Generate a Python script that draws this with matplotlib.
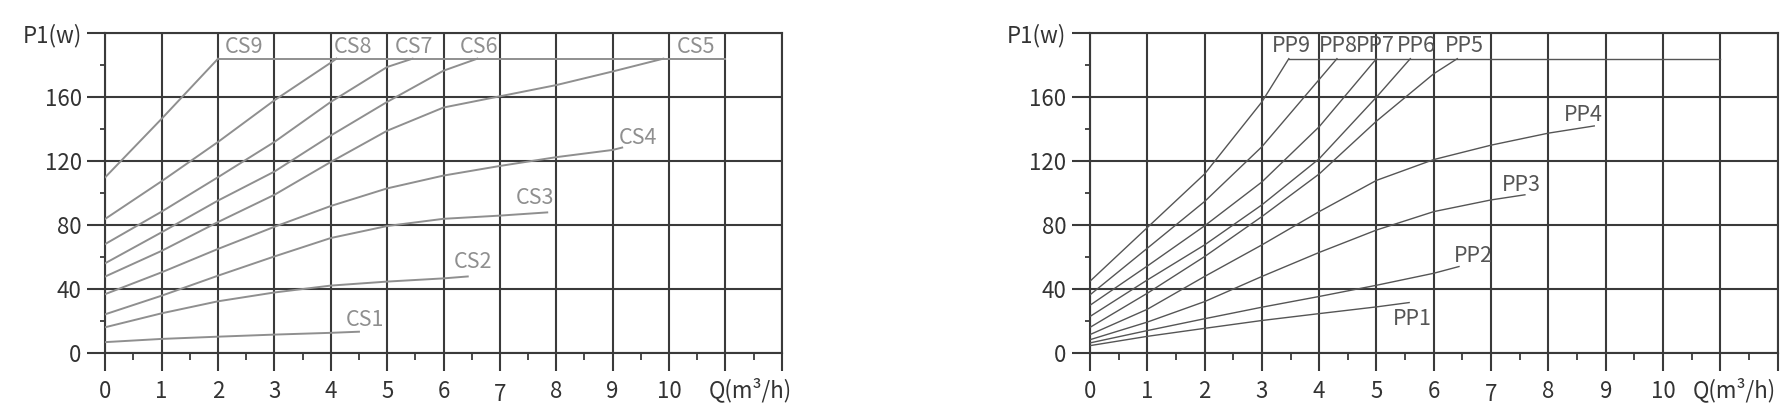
import numpy as np
import matplotlib.pyplot as plt
from matplotlib.ticker import MultipleLocator, FixedLocator

plt.rcParams['font.family'] = ['Noto Sans CJK SC', 'DejaVu Sans']

# 左图 CS 系列 (Q, P1)
cs_q = {
    'CS1': [0, 1, 2, 3, 4, 4.5],
    'CS2': [0, 1, 2, 3, 4, 5, 6, 6.43],
    'CS3': [0, 1, 2, 3, 4, 5, 6, 7, 7.84],
    'CS4': [0, 1, 2, 3, 4, 5, 6, 7, 8, 9, 9.17],
    'CS5': [0, 1, 2, 3, 4, 5, 6, 7, 8, 9, 9.9],
    'CS6': [0, 1, 2, 3, 4, 5, 6, 6.6],
    'CS7': [0, 1, 2, 3, 4, 5, 5.45],
    'CS8': [0, 1, 2, 3, 4, 4.1],
    'CS9': [0, 1, 2],
}
cs_p = {
    'CS1': [7, 9, 10.4, 11.7, 12.8, 13.5],
    'CS2': [16.3, 25, 32.5, 38, 42.3, 44.8, 46.8, 48],
    'CS3': [24.4, 36, 48.5, 60.5, 72, 79.5, 84, 86, 88],
    'CS4': [37, 50.6, 65.2, 79, 92, 103, 111, 117, 122.5, 127, 128.5],
    'CS5': [48, 64, 82, 99, 119.5, 139, 153.5, 160.5, 167.5, 176, 184],
    'CS6': [56.3, 75.6, 95.4, 113.5, 136, 157, 176.5, 184],
    'CS7': [68.3, 88.5, 110, 132, 157, 178.8, 184],
    'CS8': [84, 107.5, 132, 158, 181.5, 184],
    'CS9': [110, 146.5, 184],
}
cs_limit_q = [2, 11]

# 右图 PP 系列 (Q, P1)
pp_q = {
    'PP1': [0, 1, 2, 3, 4, 5, 5.57],
    'PP2': [0, 1, 2, 3, 4, 5, 6, 6.44],
    'PP3': [0, 1, 2, 3, 4, 5, 6, 7, 7.59],
    'PP4': [0, 1, 2, 3, 4, 5, 6, 7, 8, 8.8],
    'PP5': [0, 1, 2, 3, 4, 5, 6, 6.41],
    'PP6': [0, 1, 2, 3, 4, 5, 5.59],
    'PP7': [0, 1, 2, 3, 4, 5],
    'PP8': [0, 1, 2, 3, 4, 4.31],
    'PP9': [0, 1, 2, 3, 3.47],
}
pp_p = {
    'PP1': [4.8, 10.6, 15.6, 20.5, 24.8, 29, 31.7],
    'PP2': [6.5, 14.2, 21.6, 28.8, 35.5, 42.5, 50, 54.2],
    'PP3': [8.5, 19.5, 32.3, 48, 63, 77, 88.5, 95.8, 99],
    'PP4': [11.7, 27.5, 48, 67.7, 88.5, 108, 121, 130, 137.5, 142],
    'PP5': [16.2, 37.5, 60.4, 85.4, 112, 145, 174.6, 184],
    'PP6': [23, 45.8, 67.7, 92.7, 121.5, 160, 184],
    'PP7': [30, 54.5, 79.6, 107, 141.5, 184],
    'PP8': [36.5, 65.6, 94.8, 129, 171, 184],
    'PP9': [45, 78.5, 112, 157, 184],
}
pp_limit_q = [3.47, 11]

p_max = 184

x_labels = ['0', '1', '2', '3', '4', '5', '6', '', '8', '9', '10', '', '']
y_labels = ['0', '40', '80', '120', '160', 'P1(w)']

# 标签位置
cs_label_pos = {'CS9': (2.12, 191), 'CS8': (4.06, 191), 'CS7': (5.13, 191),
                'CS6': (6.28, 191), 'CS5': (10.13, 191), 'CS4': (9.11, 134.5),
                'CS3': (7.28, 97), 'CS2': (6.19, 57), 'CS1': (4.27, 21)}
pp_label_pos = {'PP9': (3.18, 192), 'PP8': (4.0, 192), 'PP7': (4.64, 192),
                'PP6': (5.35, 192), 'PP5': (6.19, 192), 'PP4': (8.27, 149),
                'PP3': (7.19, 105), 'PP2': (6.35, 61), 'PP1': (5.29, 21.5)}

grid_c = '#3a3a3a'
tick_fs = 16
label_fs = 15.5


def setup_axes(ax, q_center):
    ax.set_xlim(0, 12)
    ax.set_ylim(0, 200)
    ax.xaxis.set_major_locator(FixedLocator(range(13)))
    ax.yaxis.set_major_locator(FixedLocator([0, 40, 80, 120, 160, 200]))
    ax.xaxis.set_minor_locator(MultipleLocator(0.5))
    ax.yaxis.set_minor_locator(MultipleLocator(20))
    ax.set_xticklabels(x_labels)
    ax.set_yticklabels(y_labels)
    ax.grid(True, which='major', color=grid_c, lw=1.5)
    for s in ax.spines.values():
        s.set_color(grid_c)
        s.set_linewidth(1.5)
    ax.tick_params(which='major', length=13, width=1.5, color=grid_c,
                   labelsize=tick_fs, labelcolor='#333333')
    ax.tick_params(axis='x', which='major', pad=6)
    ax.tick_params(axis='y', which='major', pad=4)
    ax.tick_params(axis='x', which='minor', length=5, width=1.3, color=grid_c)
    ax.tick_params(axis='y', which='minor', length=3.6, width=1.3, color=grid_c)
    ax.set_axisbelow(False)
    # 7 的刻度标签稍微偏低
    ax.annotate('7', xy=(7, 0), xycoords=('data', 'axes fraction'),
                xytext=(0, -30), textcoords='offset points', ha='center',
                va='center', fontsize=tick_fs, color='#333333')
    ax.annotate('Q(m³/h)', xy=(q_center, 0), xycoords=('data', 'axes fraction'),
                xytext=(0, -26.5), textcoords='offset points', ha='center',
                va='center', fontsize=tick_fs, color='#333333')


fig = plt.figure(figsize=(17.88, 4.08), dpi=100)
ax1 = fig.add_axes([0.0589, 0.134, 0.3783, 0.785])
ax2 = fig.add_axes([0.6096, 0.134, 0.3846, 0.785])

setup_axes(ax1, 11.45)
setup_axes(ax2, 11.25)

cs_c = '#8f8f8f'
for name in cs_q:
    ax1.plot(cs_q[name], cs_p[name], color=cs_c, lw=1.4, zorder=3)
    x, y = cs_label_pos[name]
    ax1.text(x, y, name, color=cs_c, fontsize=label_fs, ha='left', va='center', zorder=4)
ax1.plot(cs_limit_q, [p_max, p_max], color=cs_c, lw=1.4, zorder=3)

pp_c = '#555555'
for name in pp_q:
    ax2.plot(pp_q[name], pp_p[name], color=pp_c, lw=1.0, zorder=3)
    x, y = pp_label_pos[name]
    ax2.text(x, y, name, color=pp_c, fontsize=label_fs, ha='left', va='center', zorder=4)
ax2.plot(pp_limit_q, [p_max, p_max], color=pp_c, lw=1.0, zorder=3)

fig.savefig('out.png', dpi=100)
